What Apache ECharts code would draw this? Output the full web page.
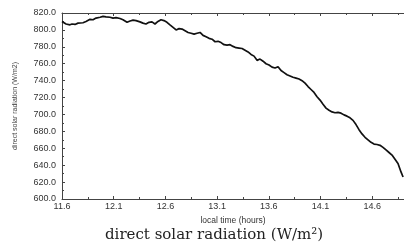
<!DOCTYPE html>
<html>
<head>
<meta charset="utf-8">
<script src="https://cdn.jsdelivr.net/npm/echarts@6/dist/echarts.min.js"></script>
<style>
html,body{margin:0;padding:0;background:#fff;}
#main{width:404px;height:244px;}
</style>
</head>
<body>
<div id="main"></div>
<script>
// local time (hours)
var hours = [11.600,11.619,11.639,11.658,11.677,11.697,11.726,11.755,11.774,11.803,
  11.832,11.871,11.900,11.929,11.968,11.997,12.026,12.064,12.093,12.122,
  12.161,12.190,12.229,12.258,12.287,12.316,12.354,12.383,12.412,12.441,
  12.470,12.499,12.528,12.557,12.586,12.615,12.644,12.674,12.703,12.732,
  12.761,12.790,12.819,12.848,12.877,12.906,12.935,12.964,12.993,13.022,
  13.051,13.080,13.109,13.138,13.167,13.196,13.225,13.254,13.283,13.312,
  13.341,13.370,13.399,13.428,13.457,13.486,13.515,13.544,13.573,13.602,
  13.631,13.660,13.689,13.718,13.747,13.776,13.805,13.834,13.863,13.892,
  13.921,13.950,13.979,14.008,14.037,14.066,14.095,14.124,14.153,14.182,
  14.211,14.240,14.269,14.298,14.327,14.356,14.385,14.414,14.443,14.472,
  14.501,14.530,14.559,14.588,14.617,14.646,14.675,14.704,14.733,14.762,
  14.791,14.820,14.849,14.878,14.898];
// direct solar radiation (W/m2)
var radiation = [810,811,807,805.5,806,807,806.5,808,809,808.5,
  810,812.5,812,814,815,816,815.5,815,814,814.5,
  813.5,812,809,810.5,811.5,811,809.5,808,807,809,
  809.5,807,810,812,811,809,806,803,800,801.5,
  801,799,797,796,795,796,797,793.5,792,790,
  789,786,786.5,785,782.5,782,782.5,780.5,779,778.5,
  778,776,774,771,769,764,765.5,763,760,758.5,
  756,755,756.5,752,749.5,747,745.5,744,743,742,
  740,737,733,729.5,726,721,717,712,707.5,705,
  703,702,702.5,701.5,699.5,698,696,693,688,682,
  677,673,670,667,665,664.5,663.5,661,658,655,
  652,647,642,632,626];

var chart = echarts.init(document.getElementById('main'));
var pts = [];
for (var i = 0; i < hours.length; i++) pts.push([hours[i], radiation[i]]);

var axisCol = '#444';
var lblStyle = {fontFamily: 'Liberation Sans', fontSize: 9, color: '#333'};

chart.setOption({
  animation: false,
  title: {
    text: 'direct solar radiation (W/m²)',
    left: 105,
    top: 228,
    padding: 0,
    textStyle: {fontFamily: 'DejaVu Serif', fontSize: 15, fontWeight: 'normal', color: '#222'}
  },
  grid: {left: 62, right: 0, top: 13, bottom: 45},
  xAxis: [{
    type: 'value', min: 11.6, max: 14.907, interval: 0.5,
    name: 'local time (hours)', nameLocation: 'middle', nameGap: 15,
    nameTextStyle: {fontFamily: 'Liberation Sans', fontSize: 8.5, color: '#333'},
    axisLine: {lineStyle: {color: axisCol, width: 1}},
    axisTick: {inside: true, length: 3, lineStyle: {color: axisCol}},
    minorTick: {show: true, splitNumber: 2, length: 2, lineStyle: {color: axisCol}},
    splitLine: {show: false},
    axisLabel: Object.assign({margin: 3, showMaxLabel: false,
      formatter: function (v) { return v.toFixed(1); }}, lblStyle)
  }, {
    type: 'value', position: 'top', min: 11.6, max: 14.907, interval: 0.5,
    axisLine: {lineStyle: {color: axisCol, width: 1}},
    axisTick: {inside: true, length: 3, lineStyle: {color: axisCol}},
    minorTick: {show: true, splitNumber: 2, length: 2, lineStyle: {color: axisCol}},
    splitLine: {show: false},
    axisLabel: {show: false}
  }],
  yAxis: {
    type: 'value', min: 600, max: 820, interval: 20,
    name: 'direct solar radiation (W/m2)', nameLocation: 'middle', nameGap: 43,
    nameTextStyle: {fontFamily: 'Liberation Sans', fontSize: 7, color: '#444'},
    axisLine: {show: true, lineStyle: {color: axisCol, width: 1}},
    axisTick: {show: true, inside: true, length: 3, lineStyle: {color: axisCol}},
    minorTick: {show: true, splitNumber: 2, length: 2, lineStyle: {color: axisCol}},
    splitLine: {show: false},
    axisLabel: Object.assign({margin: 6,
      formatter: function (v) { return v.toFixed(1); }}, lblStyle)
  },
  series: [{
    type: 'line', data: pts, showSymbol: false,
    lineStyle: {color: '#111', width: 1.7}
  }]
});
</script>
</body>
</html>
